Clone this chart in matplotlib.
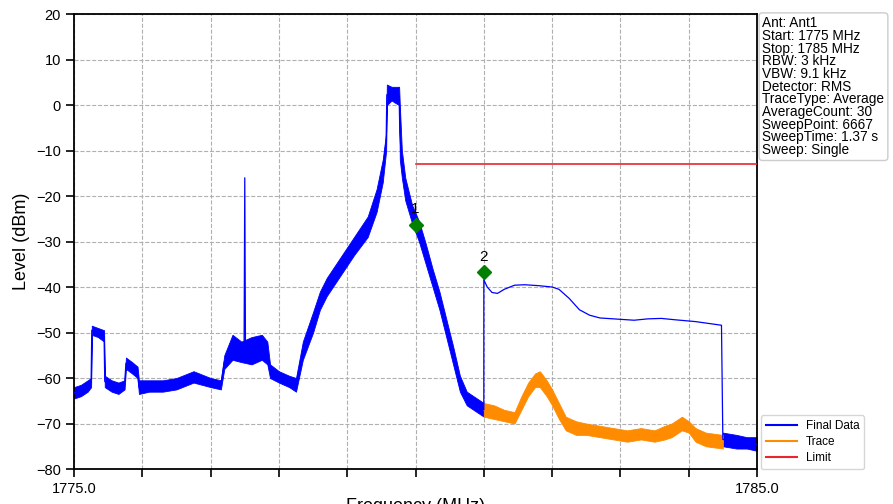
import numpy as np
import matplotlib
matplotlib.use('Agg')
import matplotlib.pyplot as plt

plt.rcParams['font.family'] = ['Liberation Sans', 'DejaVu Sans']

# Final Data, noisy part 1775 - 1781 MHz (lower / upper edge of the noise band, dBm)
noisy_f = [1775.00, 1775.10, 1775.20, 1775.25, 1775.26, 1775.35, 1775.44, 1775.45,
           1775.55, 1775.65, 1775.74, 1775.76, 1775.85, 1775.93, 1775.95, 1776.10,
           1776.30, 1776.50, 1776.75, 1777.00, 1777.15, 1777.20, 1777.32, 1777.45,
           1777.60, 1777.75, 1777.83, 1777.87, 1778.00, 1778.15, 1778.25, 1778.35,
           1778.50, 1778.60, 1778.70, 1778.90, 1779.10, 1779.30, 1779.43, 1779.52,
           1779.57, 1779.58, 1779.65, 1779.70, 1779.76, 1779.77, 1779.80, 1779.85,
           1779.95, 1780.05, 1780.15, 1780.25, 1780.35, 1780.45, 1780.55, 1780.65,
           1780.75, 1780.90, 1781.00]
noisy_lo = [-64.5, -64.0, -63.0, -62.0, -50.5, -51.0, -52.0, -62.0,
            -63.0, -63.5, -62.5, -58.0, -59.0, -60.0, -63.5, -63.0,
            -63.0, -62.5, -61.0, -62.0, -62.5, -58.0, -56.0, -56.5,
            -57.0, -56.0, -57.0, -60.0, -61.0, -62.0, -63.0, -56.0,
            -50.0, -45.0, -42.0, -37.5, -33.0, -29.0, -23.5, -17.0,
            -10.0, 0.0, 1.0, 0.5, 0.0, -12.0, -16.0, -21.0,
            -26.0, -30.0, -35.0, -40.0, -45.0, -51.0, -57.0, -63.0,
            -66.0, -67.5, -68.5]
noisy_hi = [-62.0, -61.5, -60.5, -60.0, -48.5, -49.0, -49.5, -59.5,
            -60.5, -61.0, -60.5, -55.5, -56.5, -57.5, -60.5, -60.5,
            -60.5, -60.0, -58.5, -60.0, -60.5, -55.0, -50.5, -52.0,
            -51.0, -50.5, -52.0, -57.0, -58.5, -59.5, -60.0, -52.0,
            -45.5, -41.0, -38.0, -33.5, -29.0, -24.5, -18.5, -12.0,
            -6.0, 4.5, 4.0, 4.0, 4.0, 0.0, -10.0, -16.0,
            -22.0, -25.5, -30.5, -36.0, -41.0, -47.0, -53.0, -59.5,
            -63.0, -64.5, -65.5]

# narrow spur
spike_f = [1777.49, 1777.50, 1777.51]
spike_db = [-53.0, -16.0, -53.0]

# Final Data, replaced (smooth) part
smooth_f = [1781.00, 1781.00, 1781.05, 1781.12, 1781.20, 1781.30, 1781.45, 1781.60,
            1781.80, 1782.00, 1782.10, 1782.25, 1782.40, 1782.55, 1782.70, 1783.00,
            1783.20, 1783.40, 1783.60, 1783.80, 1784.10, 1784.48, 1784.50]
smooth_db = [-67.0, -38.4, -40.0, -41.2, -41.4, -40.5, -39.6, -39.5,
             -39.7, -40.0, -40.5, -42.5, -45.0, -46.2, -46.8, -47.1,
             -47.3, -47.0, -46.9, -47.2, -47.6, -48.4, -73.5]

# Final Data, last noisy part
tail_f = [1784.50, 1784.70, 1784.85, 1785.00]
tail_lo = [-75.0, -75.5, -75.5, -76.0]
tail_hi = [-72.0, -72.5, -73.0, -73.0]

# Trace (orange)
trace_f = [1781.00, 1781.15, 1781.30, 1781.45, 1781.55, 1781.65, 1781.75, 1781.82,
           1781.92, 1782.00, 1782.10, 1782.20, 1782.35, 1782.50, 1782.70, 1782.90,
           1783.10, 1783.30, 1783.50, 1783.65, 1783.75, 1783.90, 1784.00, 1784.10,
           1784.25, 1784.50]
trace_lo = [-68.5, -69.0, -69.5, -70.0, -67.0, -64.0, -62.0, -62.0,
            -64.0, -66.0, -69.0, -71.5, -72.5, -72.5, -73.0, -73.5,
            -74.0, -73.5, -74.0, -73.5, -73.0, -71.5, -72.0, -74.0,
            -75.0, -75.5]
trace_hi = [-65.5, -66.0, -67.0, -67.5, -64.0, -61.0, -59.0, -58.5,
            -60.5, -62.5, -65.5, -68.5, -69.5, -70.0, -70.5, -71.0,
            -71.5, -71.0, -71.5, -70.5, -70.0, -68.5, -69.5, -71.0,
            -72.0, -72.5]

limit_f = [1780.0, 1785.0]
limit_db = [-13.0, -13.0]

marker_f = [1780.0, 1781.0]
marker_db = [-26.3, -36.7]
marker_names = ['1', '2']

info_lines = ['Ant: Ant1', 'Start: 1775 MHz', 'Stop: 1785 MHz', 'RBW: 3 kHz',
              'VBW: 9.1 kHz', 'Detector: RMS', 'TraceType: Average',
              'AverageCount: 30', 'SweepPoint: 6667', 'SweepTime: 1.37 s',
              'Sweep: Single']

x_ticks = np.arange(1775, 1786, 1)
x_ticklabels = ['1775.0'] + [''] * 9 + ['1785.0']

BLUE = '#0000ff'
ORANGE = '#ff8c00'

fig = plt.figure(figsize=(8.93, 5.04), dpi=100)
ax = fig.add_axes([0.0829, 0.0694, 0.7648, 0.9028])

# noisy bands
ax.fill_between(noisy_f, noisy_lo, noisy_hi, color=BLUE, lw=0.6)
ax.fill_between(tail_f, tail_lo, tail_hi, color=BLUE, lw=0.6)
ax.fill_between(trace_f, trace_lo, trace_hi, color=ORANGE, lw=0.6)

noisy_mid = (np.array(noisy_lo) + np.array(noisy_hi)) / 2
tail_mid = (np.array(tail_lo) + np.array(tail_hi)) / 2
trace_mid = (np.array(trace_lo) + np.array(trace_hi)) / 2

final_f = np.concatenate([noisy_f, smooth_f, tail_f])
final_db = np.concatenate([noisy_mid, smooth_db, tail_mid])
ax.plot(final_f, final_db, color=BLUE, lw=0.9, label='Final Data', zorder=3)
ax.plot(spike_f, spike_db, color=BLUE, lw=0.9, zorder=3)
ax.plot(trace_f, trace_mid, color=ORANGE, lw=0.9, label='Trace', zorder=2)
ax.plot(limit_f, limit_db, color='#e8262b', lw=1.2, label='Limit', zorder=3)

ax.plot(marker_f, marker_db, 'D', color='green', ms=7, ls='none', zorder=5)
for f, db, name in zip(marker_f, marker_db, marker_names):
    ax.text(f, db + 1.8, name, ha='center', va='bottom', fontsize=11, zorder=6)

ax.set_xlim(1775, 1785)
ax.set_ylim(-80, 20)
ax.set_xticks(x_ticks)
ax.set_xticklabels(x_ticklabels)
ax.set_yticks(np.arange(-80, 21, 10))
ax.tick_params(direction='out', length=6, width=1.2, labelsize=10.5)
ax.grid(True, color='#b0b0b0', ls='--', lw=0.8)
ax.set_axisbelow(True)
for s in ax.spines.values():
    s.set_linewidth(1.3)
    s.set_color('black')

ax.set_ylabel('Level (dBm)', fontsize=13)
ax.set_xlabel('Frequency (MHz)', fontsize=13, labelpad=1)

ax.text(1.008, 0.995, '\n'.join(info_lines), transform=ax.transAxes,
        ha='left', va='top', fontsize=9.8, linespacing=0.88,
        bbox=dict(boxstyle='round,pad=0.25', fc='white', ec='#cccccc', lw=1))

leg = ax.legend(loc='lower left', bbox_to_anchor=(1.006, 0.0), fontsize=8.5,
                handlelength=2.6, labelspacing=0.35, frameon=True,
                edgecolor='#cccccc', fancybox=True, borderaxespad=0.0)
for h in leg.get_lines():
    h.set_linewidth(1.5)

fig.savefig('out.png', dpi=100)
